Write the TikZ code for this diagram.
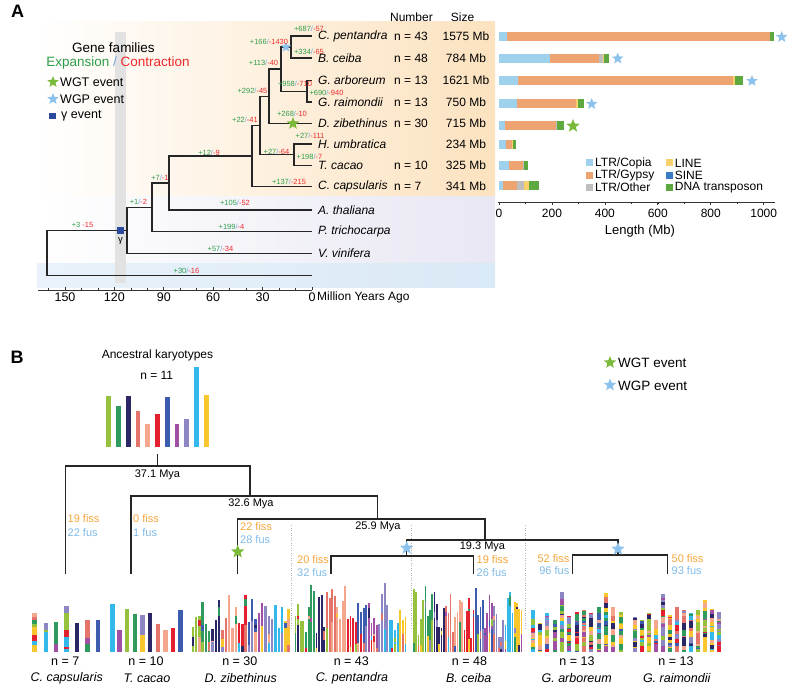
\documentclass[tikz,border=0pt]{standalone}
\usepackage{fontspec}
\setmainfont{Liberation Sans}
\usetikzlibrary{shapes.geometric}
\definecolor{expg}{HTML}{2E9E4A}
\definecolor{conr}{HTML}{EE2B2B}
\definecolor{slb}{HTML}{6FA8DC}
\definecolor{peach}{HTML}{FCE2BF}
\definecolor{peachm}{HTML}{FDF0DE}
\definecolor{lav}{HTML}{E8E7F3}
\definecolor{lavm}{HTML}{F3F2F9}
\definecolor{lblue}{HTML}{DAE9F6}
\definecolor{lbluem}{HTML}{E9F2FA}
\definecolor{band}{HTML}{E2E2E2}
\definecolor{wgtg}{HTML}{7BB93B}
\definecolor{wgpb}{HTML}{8DC2EC}
\definecolor{gam}{HTML}{2B4A9E}
\definecolor{copia}{HTML}{9DD1EC}
\definecolor{gypsy}{HTML}{EDA470}
\definecolor{other}{HTML}{BEBEBE}
\definecolor{lineC}{HTML}{F9D16C}
\definecolor{sine}{HTML}{3A7CC4}
\definecolor{dnat}{HTML}{5DA940}
\definecolor{fiss}{HTML}{F7A63A}
\definecolor{fus}{HTML}{80BBE8}
\definecolor{kc0}{HTML}{95C13D}
\definecolor{kc1}{HTML}{2E9A5E}
\definecolor{kc2}{HTML}{2B2766}
\definecolor{kc3}{HTML}{E4736A}
\definecolor{kc4}{HTML}{F5A78E}
\definecolor{kc5}{HTML}{E5202E}
\definecolor{kc6}{HTML}{3C5CB0}
\definecolor{kc7}{HTML}{A14FA5}
\definecolor{kc8}{HTML}{8D86C4}
\definecolor{kc9}{HTML}{33B8EB}
\definecolor{kc10}{HTML}{F9C62E}
\newcommand\myfs[1]{\fontsize{#1}{#1}\selectfont}
\newcommand\gl[2]{\textcolor{expg}{#1}\textcolor{slb}{/}\textcolor{conr}{#2}}
\newcommand\kgroup[6]{%
  \foreach \ki in {1,...,#3} {%
    \pgfmathsetmacro\kx{#1+(\ki-1)*#2}%
    \pgfmathtruncatemacro\kmain{min(10,floor((\ki-1)*11/#3))}%
    \pgfmathsetmacro\ktop{#5+rnd*(#6-#5)}%
    \fill[kc\kmain] ({\kx-#4/2},\ktop) rectangle ({\kx+#4/2},651.7);%
    \pgfmathsetmacro\kpr{rnd}%
    \ifdim\kpr pt<0.45pt
      \pgfmathrandominteger{\kci}{0}{10}%
      \pgfmathsetmacro\kya{\ktop+(0.4+0.5*rnd)*(651.7-\ktop)}%
      \fill[kc\kci] ({\kx-#4/2},\kya) rectangle ({\kx+#4/2},651.7);%
    \fi
    \pgfmathsetmacro\kpr{rnd}%
    \ifdim\kpr pt<0.35pt
      \pgfmathrandominteger{\kci}{0}{10}%
      \pgfmathsetmacro\kya{\ktop+rnd*0.6*(651.7-\ktop)}%
      \pgfmathsetmacro\kyb{\kya+2+rnd*8}%
      \fill[kc\kci] ({\kx-#4/2},\kya) rectangle ({\kx+#4/2},\kyb);%
    \fi
  }}
\newcommand\ggroup[2]{%
  \foreach \gx/\gtop in {#1} {%
    \pgfmathrandominteger{\gbc}{0}{10}%
    \fill[kc\gbc] ({\gx-#2/2},\gtop) rectangle ({\gx+#2/2},651.7);%
    \foreach \gs in {1,...,12} {%
      \pgfmathrandominteger{\gci}{0}{10}%
      \pgfmathsetmacro\gya{\gtop+rnd*(651.7-\gtop-2)}%
      \pgfmathsetmacro\gyb{min(\gya+1.5+rnd*6,651.7)}%
      \fill[kc\gci] ({\gx-#2/2},\gya) rectangle ({\gx+#2/2},\gyb);%
    }%
  }}
\begin{document}
\begin{tikzpicture}[x=1pt,y=-1pt,
  tree/.style={line width=1.2pt, draw=black!85},
  blab/.style={font=\myfs{7.5}, inner sep=0},
  spA/.style={font=\myfs{12}\itshape, anchor=west, inner sep=0},
  numA/.style={font=\myfs{12}, inner sep=0},
  sgr/.style={star, star points=5, star point ratio=2.3, fill=wgtg, draw=none, inner sep=0},
  sbl/.style={star, star points=5, star point ratio=2.3, fill=wgpb, draw=none, inner sep=0},
  fis/.style={font=\myfs{11}, text=fiss, inner sep=0},
  fu/.style={font=\myfs{11}, text=fus, inner sep=0},
  mya/.style={font=\myfs{11}, inner sep=0},
  nB/.style={font=\myfs{12.5}, inner sep=0},
  spB/.style={font=\myfs{12.5}\itshape, inner sep=0},
  dotl/.style={gray!60, line width=0.6pt, dash pattern=on 1pt off 1.5pt}
]
\useasboundingbox (0,0) rectangle (796,690);
\fill[white] (0,0) rectangle (796,690);
% ---------------- Panel A backgrounds
\shade[left color=white, middle color=peachm, right color=peach] (37,22) rectangle (495,197);
\shade[left color=white, middle color=lavm, right color=lav] (37,197) rectangle (495,263);
\shade[left color=lbluem, middle color=lblue, right color=lblue] (37,263) rectangle (495,287);
\fill[band] (115,32) rectangle (126,283);
\node[font=\bfseries\myfs{18}, inner sep=0] (lA) at (17.5,11.5) {A};
% legend
\node[font=\myfs{13.5}, inner sep=0] (lgf) at (113.5,48) {Gene families};
\node[font=\myfs{13.5}, inner sep=0] (lec) at (118,63.5) {\textcolor{expg}{Expansion}\ \textcolor{slb}{/}\ \textcolor{conr}{Contraction}};
\node[sgr, minimum size=12] (lsg) at (53,82) {};
\node[font=\myfs{12.5}, anchor=west, inner sep=0] (lwgt) at (60,82) {WGT event};
\node[sbl, minimum size=12] (lsb) at (53,99) {};
\node[font=\myfs{12.5}, anchor=west, inner sep=0] (lwgp) at (60,99) {WGP event};
\node[fill=gam, minimum size=6.5, inner sep=0] (lsq) at (52.3,116) {};
\node[font=\myfs{12.5}, anchor=west, inner sep=0] (lgev) at (61,116) {γ event};
% tips
\coordinate (tCp) at (312,36);
\coordinate (tBc) at (312,58);
\coordinate (tGa) at (312,80.5);
\coordinate (tGr) at (312,102);
\coordinate (tDz) at (312,123.5);
\coordinate (tHu) at (312,144);
\coordinate (tTc) at (312,165.5);
\coordinate (tCc) at (312,186.5);
\coordinate (tAt) at (312,210);
\coordinate (tPt) at (312,231.5);
\coordinate (tVv) at (312,253.5);
\coordinate (tOg) at (312,275.5);
% internal nodes
\coordinate (aCB) at (291,47);
\coordinate (aG) at (307,91.25);
\coordinate (aCBG) at (281,69.1);
\coordinate (aCBGD) at (269,96.3);
\coordinate (aHT) at (294,154.75);
\coordinate (aM1) at (260,125.5);
\coordinate (aM2) at (252,156);
\coordinate (aAt) at (169,183);
\coordinate (aPt) at (152,207.25);
\coordinate (aVv) at (127,230.4);
\coordinate (aR) at (47,252.9);
\draw[tree] (aCB) |- (tCp) (aCB) |- (tBc) (aG) |- (tGa) (aG) |- (tGr)
  (aCBG) |- (aCB) (aCBG) |- (aG) (aCBGD) |- (aCBG) (aCBGD) |- (tDz)
  (aHT) |- (tHu) (aHT) |- (tTc) (aM1) |- (aCBGD) (aM1) |- (aHT)
  (aM2) |- (aM1) (aM2) |- (tCc) (aAt) |- (aM2) (aAt) |- (tAt)
  (aPt) |- (aAt) (aPt) |- (tPt) (aVv) |- (aPt) (aVv) |- (tVv)
  (aR) |- (aVv) (aR) |- (tOg);
\node[sbl, minimum size=11] (sA1) at (286,47) {};
\node[sgr, minimum size=13] (sA2) at (293,123.5) {};
\node[fill=gam, minimum size=7, inner sep=0] (sqA) at (120.5,230.4) {};
\node[font=\myfs{9.5}, inner sep=0] (gamA) at (120.5,241) {γ};
% branch labels
\node[blab] (b1) at (269,42) {\gl{+166}{-1430}};
\node[blab] (b2) at (309,29) {\gl{+687}{-57}};
\node[blab] (b3) at (309,52) {\gl{+334}{-65}};
\node[blab] (b4) at (263.5,63) {\gl{+113}{-40}};
\node[blab] (b5) at (295,84) {\gl{+958}{-710}};
\node[blab] (b6) at (326.5,93) {\gl{+690}{-940}};
\node[blab] (b7) at (252.5,91) {\gl{+292}{-45}};
\node[blab] (b8) at (292,114) {\gl{+268}{-10}};
\node[blab] (b9) at (245,120) {\gl{+22}{-41}};
\node[blab] (b10) at (310,136) {\gl{+27}{-111}};
\node[blab] (b11) at (276.5,152) {\gl{+27}{-64}};
\node[blab] (b12) at (309.5,157) {\gl{+198}{-7}};
\node[blab] (b13) at (209,153) {\gl{+12}{-9}};
\node[blab] (b14) at (289,182) {\gl{+137}{-215}};
\node[blab] (b15) at (160,178) {\gl{+7}{-1}};
\node[blab] (b16) at (235,203) {\gl{+105}{-52}};
\node[blab] (b17) at (138.5,202) {\gl{+1}{-2}};
\node[blab] (b18) at (231.5,227) {\gl{+199}{-4}};
\node[blab] (b19) at (82.5,225) {\textcolor{expg}{+3} \textcolor{conr}{-15}};
\node[blab] (b20) at (220.5,249) {\gl{+57}{-34}};
\node[blab] (b21) at (186.5,271) {\gl{+30}{-16}};
% species labels
\node[spA] (nCp) at (318,36) {C. pentandra};
\node[spA] (nBc) at (318,58) {B. ceiba};
\node[spA] (nGa) at (318,80.5) {G. arboreum};
\node[spA] (nGr) at (318,102) {G. raimondii};
\node[spA] (nDz) at (318,123.5) {D. zibethinus};
\node[spA] (nHu) at (318,144) {H. umbratica};
\node[spA] (nTc) at (318,165.5) {T. cacao};
\node[spA] (nCc) at (318,186.5) {C. capsularis};
\node[spA] (nAt) at (318,210) {A. thaliana};
\node[spA] (nPt) at (318,231.5) {P. trichocarpa};
\node[spA] (nVv) at (318,253.5) {V. vinifera};
\node[numA] (hNum) at (411.5,17) {Number};
\node[numA] (hSize) at (462.5,17) {Size};
\foreach \nm/\yy/\nn/\sz in {c1/36/43/1575,c2/58/48/784,c3/80.5/13/1621,c4/102/13/750,c5/123.5/30/715,c7/165.5/10/325,c8/186.5/7/341}{
  \node[numA, anchor=west] (num\nm) at (394,\yy) {n = \nn};
  \node[numA] (siz\nm) at (466,\yy) {\sz{} Mb};
}
\node[numA] (sizc6) at (466,144) {234 Mb};
% time axis
\draw[line width=0.7pt, black!80] (38,290) -- (312,290);
\foreach \t in {0,10,...,160} \draw[line width=0.6pt, black!80] ({312-1.6467*\t},290) -- ++(0,-2);
\foreach \t in {0,30,...,150} {
  \draw[line width=0.7pt, black!80] ({312-1.6467*\t},290) -- ++(0,-3.5);
  \node[font=\myfs{12.5}, inner sep=0] (ax\t) at ({312-1.6467*\t},297.5) {\t};
}
\node[font=\myfs{12}, anchor=west, inner sep=0] (mya) at (317,297) {Million Years Ago};
% ---------------- bar chart
\foreach \yy/\a/\b/\c in {
  36.7/0/29/copia, 36.7/29/1025/gypsy, 36.7/1025/1038/dnat,
  58.3/0/192/copia, 58.3/192/378/gypsy, 58.3/378/392/other, 58.3/392/398/lineC, 58.3/398/415/dnat,
  80.7/0/71/copia, 80.7/71/885/gypsy, 80.7/885/893/lineC, 80.7/893/923/dnat,
  103.7/0/67/copia, 103.7/67/291/gypsy, 103.7/291/297/lineC, 103.7/297/322/dnat,
  126/0/23/copia, 126/23/215/gypsy, 126/215/220/other, 126/220/246/dnat,
  145/0/26/copia, 145/26/48/gypsy, 145/48/52/lineC, 145/52/63/dnat,
  166/0/39/copia, 166/39/89/gypsy, 166/89/94/other, 166/94/111/dnat,
  186/0/14/copia, 186/14/69/gypsy, 186/69/94/other, 186/94/114/lineC, 186/114/152/dnat}
  \fill[\c] ({499+\a*0.2647},\yy-4.5) rectangle ({499+\b*0.2647},\yy+4.5);
\node[sbl, minimum size=12] (sB1) at (781.7,37) {};
\node[sbl, minimum size=12] (sB2) at (617.7,58.5) {};
\node[sbl, minimum size=12] (sB3) at (752,81) {};
\node[sbl, minimum size=12] (sB4) at (591.7,104) {};
\node[sgr, minimum size=14] (sB5) at (573,126) {};
\draw[line width=0.7pt, black!80] (498,202) -- (775,202);
\foreach \v in {0,100,...,1000} \draw[line width=0.6pt, black!80] ({499+\v*0.2647},202) -- ++(0,2);
\foreach \v in {0,200,...,1000} {
  \draw[line width=0.7pt, black!80] ({499+\v*0.2647},202) -- ++(0,3);
  \node[font=\myfs{12}, inner sep=0] (bx\v) at ({499+\v*0.2647},213.5) {\v};
}
\node[font=\myfs{13}, inner sep=0] (lenl) at (640,231.5) {Length (Mb)};
\foreach \nm/\xx/\yy/\c/\lab in {q1/589.5/163/copia/LTR\slash Copia, q2/589.5/175.3/gypsy/LTR\slash Gypsy, q3/589.5/187.7/other/LTR\slash Other, q4/669.2/163/lineC/LINE, q5/669.2/175.3/sine/SINE, q6/669.2/187.7/dnat/DNA transposon}{
  \node[fill=\c, minimum size=7, inner sep=0] (sq\nm) at (\xx,\yy) {};
  \node[font=\myfs{12}, anchor=west, inner sep=0] (tx\nm) at (\xx+5.5,\yy) {\lab};
}
% ---------------- Panel B
\node[font=\bfseries\myfs{18}, inner sep=0] (lB) at (17,357.5) {B};
\node[font=\myfs{12}, inner sep=0] (anc) at (157.5,355.7) {Ancestral karyotypes};
\node[font=\myfs{12}, inner sep=0] (n11) at (156.7,375) {n = 11};
\foreach \xx/\tp/\c in {108.7/396/kc0, 118.3/406/kc1, 128.3/396.3/kc2, 138/410.7/kc3, 147.7/424.3/kc4, 157.7/414.3/kc5, 167.3/397.3/kc6, 177/424/kc7, 186.7/418.7/kc8, 196.7/367/kc9, 206.3/395.3/kc10}
  \fill[\c] (\xx-2.4,\tp) rectangle (\xx+2.4,447.3);
% legend B
\node[sgr, minimum size=13] (lbs1) at (610,362.5) {};
\node[font=\myfs{13.5}, anchor=west, inner sep=0] (lbt1) at (618,363) {WGT event};
\node[sbl, minimum size=13] (lbs2) at (610,385) {};
\node[font=\myfs{13.5}, anchor=west, inner sep=0] (lbt2) at (618,385.5) {WGP event};
% dotted separators
\draw[dotl] (291.7,525) -- (291.7,629);
\draw[dotl] (411.5,525) -- (411.5,629);
\draw[dotl] (525.5,525) -- (525.5,629);
% tree B
\coordinate (bRoot) at (157.7,454);
\coordinate (b37) at (157.7,466);
\coordinate (bCc) at (65.7,574);
\coordinate (b32) at (250,496);
\coordinate (bTc) at (131,574);
\coordinate (b25) at (377.7,519);
\coordinate (bDz) at (237.7,574);
\coordinate (b19) at (485,540);
\coordinate (bCB) at (406.7,556);
\coordinate (bG) at (618,555);
\coordinate (bCp) at (331,574);
\coordinate (bBc) at (473.3,574);
\coordinate (bGa) at (572.7,573.5);
\coordinate (bGr) at (667.7,573.5);
\draw[tree] (bRoot) -- (b37) (b37) -| (bCc) (b37) -| (b32) (b32) -| (bTc) (b32) -| (b25)
  (b25) -| (bDz) (b25) -| (b19) (b19) -| (bCB) (b19) -| (bG)
  (bCB) -| (bCp) (bCB) -| (bBc) (bG) -| (bGa) (bG) -| (bGr);
\node[sgr, minimum size=14] (sC1) at (237.7,551.7) {};
\node[sbl, minimum size=14] (sC2) at (406.7,548) {};
\node[sbl, minimum size=14] (sC3) at (618,549) {};
\node[mya] (m37) at (157.5,475) {37.1 Mya};
\node[mya] (m32) at (251,504) {32.6 Mya};
\node[mya] (m25) at (378,526.5) {25.9 Mya};
\node[mya] (m19) at (482.5,546.7) {19.3 Mya};
\node[fis, anchor=west] (f1) at (67.5,519) {19 fiss};
\node[fu, anchor=west] (u1) at (67.5,532.5) {22 fus};
\node[fis, anchor=west] (f2) at (133,519) {0 fiss};
\node[fu, anchor=west] (u2) at (133,532.5) {1 fus};
\node[fis, anchor=west] (f3) at (240,526.7) {22 fiss};
\node[fu, anchor=west] (u3) at (240,540) {28 fus};
\node[fis, anchor=west] (f4) at (297,560) {20 fiss};
\node[fu, anchor=west] (u4) at (297,572.5) {32 fus};
\node[fis, anchor=west] (f5) at (476.5,560) {19 fiss};
\node[fu, anchor=west] (u5) at (476.5,572.5) {26 fus};
\node[fis, anchor=east] (f6) at (569.5,558.3) {52 fiss};
\node[fu, anchor=east] (u6) at (569.5,571) {96 fus};
\node[fis, anchor=west] (f7) at (671.5,558.3) {50 fiss};
\node[fu, anchor=west] (u7) at (671.5,571) {93 fus};
% karyotype bars
\foreach \xx/\ya/\yb/\c in {
  34.3/613.3/617/kc4, 34.3/617/620/kc3, 34.3/620/623.5/kc1, 34.3/623.5/627/kc0, 34.3/627/635/kc10, 34.3/635/641/kc5, 34.3/641/644.5/kc9, 34.3/644.5/651.7/kc10,
  45.7/623.3/629.5/kc8, 45.7/629.5/632/kc0, 45.7/632/651.7/kc9,
  56/621.7/644/kc1, 56/644/651.7/kc7,
  66.3/606/613/kc8, 66.3/613/629.5/kc0, 66.3/629.5/637.3/kc5, 66.3/637.3/647/kc9, 66.3/647/649/kc5, 66.3/649/651.7/kc9,
  76.7/623.3/651.7/kc2,
  87.3/620/638/kc3, 87.3/638/643.5/kc7, 87.3/643.5/651.7/kc1,
  97.7/620/651.7/kc6,
  112.3/604/651.7/kc9, 119.3/630/651.7/kc7, 127/609.3/651.7/kc0, 134.7/614.3/651.7/kc1,
  142.3/615/635/kc8, 142.3/635/651.7/kc10, 150/613.3/651.7/kc2, 157.7/624/651.7/kc3,
  165.3/630/651.7/kc4, 173/628.3/651.7/kc5, 180.3/610/651.7/kc6}
  \fill[\c] (\xx-2.2,\ya) rectangle (\xx+2.2,\yb);
\pgfmathsetseed{7}
\kgroup{192.7}{3.31}{30}{2.4}{594}{632}
\kgroup{295.5}{2.62}{43}{1.9}{583}{635}
\kgroup{414}{2.29}{48}{1.7}{585}{640}
\ggroup{532.7/610, 540/623.3, 547.3/612.7, 554.7/620, 562/591.7, 569.3/616, 576.7/612.3, 584/610, 591.3/612.7, 598.7/607.3, 606/593.3, 613.3/607.3, 620.7/611.7}{4.2}
\ggroup{635/616.7, 642/620, 649/613.3, 656/620, 663/594, 670/615, 677/607.3, 684/610, 691/613.3, 698/610, 705/600, 712/609.3, 719/612.3}{4.2}
% labels B
\node[nB] (nb1) at (65.3,660.7) {n = 7};
\node[spB] (sb1) at (66.7,678.3) {C. capsularis};
\node[nB] (nb2) at (146,660.7) {n = 10};
\node[spB] (sb2) at (147,678.3) {T. cacao};
\node[nB] (nb3) at (239.8,660.7) {n = 30};
\node[spB] (sb3) at (240.8,678.3) {D. zibethinus};
\node[nB] (nb4) at (351.3,660.7) {n = 43};
\node[spB] (sb4) at (352,678.3) {C. pentandra};
\node[nB] (nb5) at (469.5,660.7) {n = 48};
\node[spB] (sb5) at (468.7,678.3) {B. ceiba};
\node[nB] (nb6) at (577,660.7) {n = 13};
\node[spB] (sb6) at (576.7,678.3) {G. arboreum};
\node[nB] (nb7) at (676,660.7) {n = 13};
\node[spB] (sb7) at (676.7,678.3) {G. raimondii};
\end{tikzpicture}
\end{document}
